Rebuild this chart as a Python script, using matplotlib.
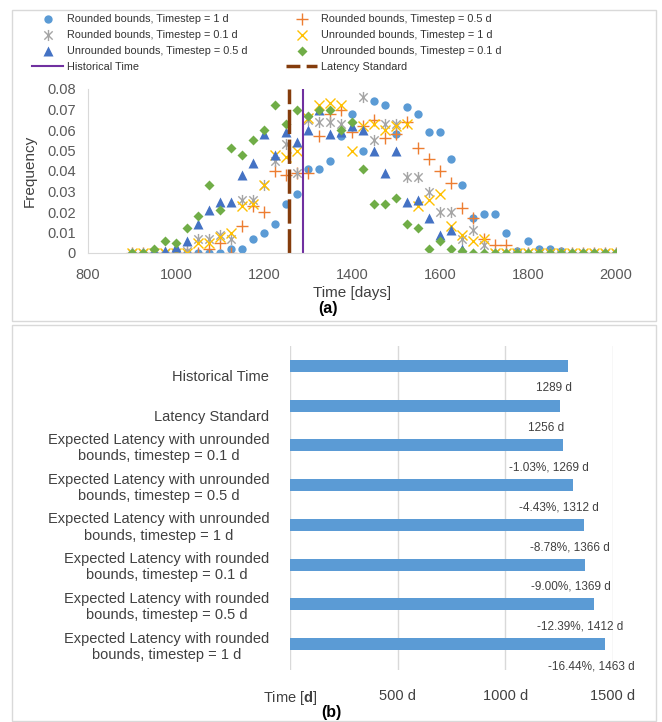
import numpy as np
import matplotlib
matplotlib.use("Agg")
import matplotlib.pyplot as plt
from matplotlib.path import Path
from matplotlib.patches import Rectangle
from matplotlib.lines import Line2D
from matplotlib.transforms import ScaledTranslation

plt.rcParams["font.family"] = ["Liberation Sans", "DejaVu Sans"]
plt.rcParams["mathtext.fontset"] = "custom"
plt.rcParams["mathtext.bf"] = "Liberation Sans:bold"
plt.rcParams["mathtext.rm"] = "Liberation Sans"

# ---- data: frequency of latency times (panel a) ----
days = [900, 925, 950, 975, 1000, 1025, 1050, 1075, 1100, 1125, 1150, 1175, 1200,
        1225, 1250, 1275, 1300, 1325, 1350, 1375, 1400, 1425, 1450, 1475, 1500,
        1525, 1550, 1575, 1600, 1625, 1650, 1675, 1700, 1725, 1750, 1775, 1800,
        1825, 1850, 1875, 1900, 1925, 1950, 1975, 2000]

rounded_1d = [0, 0, 0, 0, 0, 0, 0, 0, 0, 0.002, 0.002, 0.007, 0.010, 0.014, 0.024,
              0.029, 0.041, 0.041, 0.045, 0.057, 0.068, 0.050, 0.074, 0.072, 0.058,
              0.071, 0.068, 0.059, 0.059, 0.046, 0.033, 0.017, 0.019, 0.019, 0.010,
              0.001, 0.006, 0.002, 0.002, 0.001, 0, 0, 0, 0, 0]
rounded_05d = [0, 0, 0, 0, 0, 0, 0, 0.002, 0.005, 0.0, 0.013, 0.023, 0.020, 0.040,
               0.038, 0.039, 0.039, 0.057, 0.068, 0.070, 0.059, 0.062, 0.065, 0.056,
               0.058, 0.064, 0.051, 0.046, 0.040, 0.034, 0.022, 0.017, 0.007, 0.004,
               0.004, 0, 0, 0, 0, 0, 0, 0, 0, 0, 0]
rounded_01d = [0, 0, 0, 0, 0, 0.001, 0.007, 0.007, 0.009, 0.007, 0.026, 0.026, 0.033,
               0.045, 0.053, 0.039, 0.065, 0.064, 0.064, 0.063, 0.062, 0.076, 0.055,
               0.063, 0.063, 0.037, 0.037, 0.030, 0.020, 0.020, 0.007, 0.011, 0.004,
               0, 0, 0, 0, 0, 0, 0, 0, 0, 0, 0, 0]
unrounded_1d = [0, 0, 0, 0, 0, 0, 0.005, 0.005, 0.008, 0.010, 0.023, 0.024, 0.033,
                0.048, 0.047, 0.050, 0.066, 0.072, 0.073, 0.072, 0.050, 0.062, 0.063,
                0.060, 0.062, 0.063, 0.023, 0.026, 0.029, 0.013, 0.009, 0.006, 0.007,
                0, 0, 0, 0, 0, 0, 0, 0, 0, 0, 0, 0]
unrounded_05d = [0, 0, 0.001, 0.001, 0.003, 0.006, 0.014, 0.021, 0.025, 0.025, 0.038,
                 0.044, 0.058, 0.048, 0.059, 0.054, 0.060, 0.070, 0.058, 0.059, 0.062,
                 0.060, 0.050, 0.039, 0.050, 0.025, 0.026, 0.017, 0.009, 0.011, 0.002,
                 0, 0, 0, 0, 0, 0, 0, 0, 0, 0, 0, 0, 0, 0]
unrounded_01d = [0, 0, 0.002, 0.006, 0.005, 0.012, 0.018, 0.033, 0.021, 0.051, 0.048,
                 0.055, 0.060, 0.072, 0.063, 0.070, 0.067, 0.070, 0.070, 0.060, 0.064,
                 0.041, 0.024, 0.024, 0.027, 0.014, 0.012, 0.002, 0.006, 0.002, 0.001,
                 0, 0, 0, 0, 0, 0, 0, 0, 0, 0, 0, 0, 0, 0]

historical_time = 1289
latency_standard = 1256

# ---- data: expected latency comparison (panel b) ----
bar_labels = ["Historical Time",
              "Latency Standard",
              "Expected Latency with unrounded\nbounds, timestep = 0.1 d",
              "Expected Latency with unrounded\nbounds, timestep = 0.5 d",
              "Expected Latency with unrounded\nbounds, timestep = 1 d",
              "Expected Latency with rounded\nbounds, timestep = 0.1 d",
              "Expected Latency with rounded\nbounds, timestep = 0.5 d",
              "Expected Latency with rounded\nbounds, timestep = 1 d"]
bar_values = [1289, 1256, 1269, 1312, 1366, 1369, 1412, 1463]
bar_pct = [None, None, -1.03, -4.43, -8.78, -9.00, -12.39, -16.44]

W, H = 662, 722
fig = plt.figure(figsize=(W / 100, H / 100), dpi=100)


def px_rect(left, top, right, bottom):
    return [left / W, 1 - bottom / H, (right - left) / W, (bottom - top) / H]


# panel frames
for l, t, r, b in [(12, 10, 656, 321), (12, 325, 656, 721)]:
    fig.patches.append(Rectangle((l / W, 1 - b / H), (r - l) / W, (b - t) / H,
                                 transform=fig.transFigure, fill=False,
                                 edgecolor="#D9D9D9", lw=1))

# Excel style "star" marker: X with a vertical stroke
star = Path([(0, -1), (0, 1), (-0.75, -0.75), (0.75, 0.75), (-0.75, 0.75), (0.75, -0.75)],
            [Path.MOVETO, Path.LINETO] * 3)

ax1 = fig.add_axes(px_rect(88, 89, 616, 253))
s1, = ax1.plot(days, rounded_1d, "o", color="#5B9BD5", ms=6, mec="none",
               label="Rounded bounds, Timestep = 1 d")
s2, = ax1.plot(days, rounded_05d, "+", color="#ED7D31", ms=8, mew=1,
               label="Rounded bounds, Timestep = 0.5 d")
s3, = ax1.plot(days, rounded_01d, ls="none", marker=star, color="#A5A5A5", ms=8, mew=1,
               label="Rounded bounds, Timestep = 0.1 d")
s4, = ax1.plot(days, unrounded_1d, "x", color="#FFC000", ms=7, mew=1,
               label="Unrounded bounds, Timestep = 1 d")
s5, = ax1.plot(days, unrounded_05d, "^", color="#4472C4", ms=7, mec="none",
               label="Unrounded bounds, Timestep = 0.5 d")
s6, = ax1.plot(days, unrounded_01d, "D", color="#70AD47", ms=5.5, mec="none",
               label="Unrounded bounds, Timestep = 0.1 d")
l1, = ax1.plot([historical_time, historical_time], [0, 0.08], color="#7030A0", lw=1.5,
               label="Historical Time")
ax1.plot([latency_standard, latency_standard], [0, 0.08], color="#843C0C", lw=2.5,
         dashes=(7, 1.6))
# shorter dashes for the legend entry
l2 = Line2D([], [], color="#843C0C", lw=2.5, dashes=(4, 1.8), label="Latency Standard")

ax1.set_xlim(800, 2000)
ax1.set_ylim(0, 0.08)
ax1.set_xticks(range(800, 2001, 200))
ax1.set_yticks(np.arange(0, 0.081, 0.01))
ax1.set_yticklabels(["0"] + ["%.2f" % v for v in np.arange(0.01, 0.081, 0.01)])
ax1.tick_params(length=0, labelsize=10.5, colors="#595959")
ax1.tick_params(axis="x", pad=11)
ax1.tick_params(axis="y", pad=9)
for side in ["top", "right"]:
    ax1.spines[side].set_visible(False)
for side in ["left", "bottom"]:
    ax1.spines[side].set_color("#D9D9D9")
ax1.set_xlabel("Time [days]", fontsize=11, color="#404040", labelpad=3)
ax1.set_ylabel("Frequency", fontsize=11, color="#404040", labelpad=7)
fig.text(328 / W, 1 - 309 / H, "(a)", ha="center", va="center", fontsize=11.5,
         fontweight="bold")

# two legend columns placed separately
leg_kw = dict(loc="upper left", frameon=False, fontsize=7.8, handlelength=2.8,
              handletextpad=0.4, labelspacing=0.55, borderpad=0, labelcolor="#333333")
col1 = [s1, s3, s5, l1]
col2 = [s2, s4, s6, l2]
fig.legend(col1, [h.get_label() for h in col1], bbox_to_anchor=(27 / W, 1 - 9 / H), **leg_kw)
fig.legend(col2, [h.get_label() for h in col2], bbox_to_anchor=(281 / W, 1 - 9 / H), **leg_kw)

# ---- panel b: horizontal bars ----
ax2 = fig.add_axes(px_rect(290, 346, 613, 670))
ypos = np.arange(len(bar_values))
ax2.barh(ypos, bar_values, height=0.3, color="#5B9BD5")
ax2.set_xlim(0, 1500)
ax2.set_ylim(7.65, -0.5)
ax2.set_xticks([0, 500, 1000, 1500])
ax2.set_xticklabels(["Time [$\\mathbf{d}$]", "500 d", "1000 d", "1500 d"])
ax2.set_yticks(ypos)
ax2.set_yticklabels(bar_labels, multialignment="center")
ax2.tick_params(length=0, labelsize=10.5, colors="#404040")
ax2.tick_params(axis="y", pad=15)
ax2.tick_params(axis="x", pad=14)
ax2.grid(axis="x", color="#D9D9D9", lw=1)
ax2.set_axisbelow(True)
for sp in ax2.spines.values():
    sp.set_visible(False)

# single line category names sit a little lower than their bars
shift = ScaledTranslation(0, -10 / 100, fig.dpi_scale_trans)
for lab in ax2.get_yticklabels()[:2]:
    lab.set_transform(lab.get_transform() + shift)

for i, (v, p) in enumerate(zip(bar_values, bar_pct)):
    txt = "%d d" % v if p is None else "%.2f%%, %d d" % (p, v)
    ax2.text(v - 65, i + 0.56, txt, ha="center", va="center", fontsize=8.5,
             color="#404040")

fig.text(331 / W, 1 - 712 / H, "(b)", ha="center", va="center", fontsize=11.5,
         fontweight="bold")

fig.savefig("out.png", dpi=100)
